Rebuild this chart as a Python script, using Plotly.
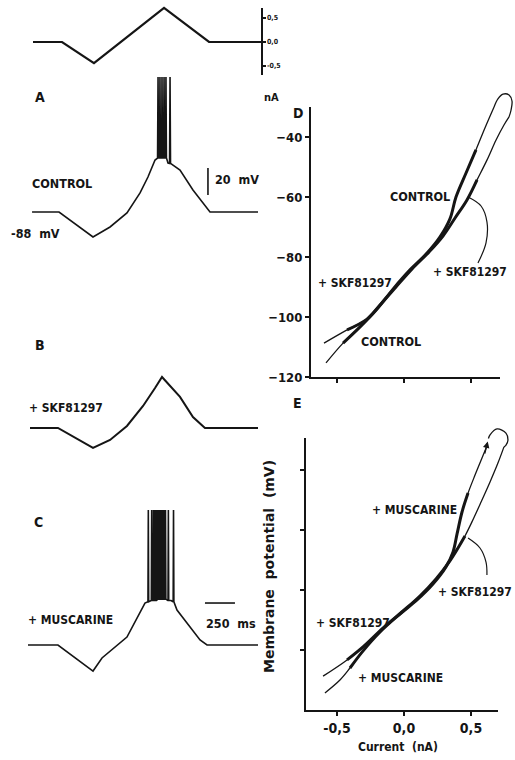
import plotly.graph_objects as go

# ---------------- data ----------------
# current stimulus (nA) vs time (ms)
STIM_T = [25, 267, 533, 1117, 1492, 1925]
STIM_I = [0, 0, -0.44, 0.71, 0, 0]

# A: control, membrane potential (mV) vs time (ms)
A_T = [17, 242, 525, 667, 808, 917, 983, 1042,
       1063, 1067, 1071, 1080, 1083, 1087, 1097, 1100, 1104,
       1113, 1117, 1121, 1130, 1133, 1137,
       1150, 1163, 1167, 1171, 1192, 1250, 1358, 1500, 1900]
A_V = [-88, -88, -106.5, -99.1, -88.7, -73.9, -62.1, -49.5,
       -48, 12, -48, -48, 12, -48, -48, 12, -48,
       -48, 12, -48, -48, 12, -48,
       -51.7, -52, 12, -52, -53.2, -56.9, -71.7, -88, -88]

# B: + SKF81297
B_T = [0, 233, 525, 667, 808, 942, 1042, 1100, 1250, 1358, 1458, 1900]
B_V = [-88, -88, -102.8, -96.9, -86.5, -71.7, -58.4, -50.2, -65.0, -79.9, -88, -88]

# C: + MUSCARINE
C_T = [-17, 233, 525, 600, 808, 958,
       983, 986, 989, 1011, 1014, 1017, 1026, 1029, 1032, 1039, 1042, 1045,
       1051, 1054, 1057, 1064, 1067, 1070, 1076, 1079, 1082, 1089, 1092, 1095,
       1101, 1104, 1107, 1114, 1117, 1120, 1126, 1129, 1132, 1150, 1153, 1156,
       1175, 1193, 1196, 1199,
       1225, 1308, 1417, 1475, 1900]
C_V = [-88, -88, -107.3, -97.6, -82.1, -56.9,
       -56, 12, -56, -55, 12, -55, -55, 12, -55, -55, 12, -55,
       -55, 12, -55, -54, 12, -54, -54, 12, -54, -54, 12, -54,
       -54, 12, -54, -54, 12, -54, -54, 12, -54, -55, 12, -55,
       -55, -56, 12, -56,
       -62.1, -71.7, -84.3, -88, -88]

# scale bars
BAR_MV_T = [1483, 1483]
BAR_MV_V = [-75.4, -55.4]
BAR_MS_T = [1458, 1708]
BAR_MS_V = [-56.9, -56.9]

# D: I-V, control vs SKF81297 (current nA, potential mV)
D_CON_X = [-0.582, -0.455, -0.328, -0.201, -0.082, 0.045, 0.172, 0.269, 0.343, 0.388, 0.463, 0.537, 0.604, 0.672]
D_CON_Y = [-115.3, -108.7, -103.3, -97.3, -90.7, -84.3, -78.7, -73.3, -67.3, -60.0, -52.0, -44.3, -37.0, -30.0]
D_SKF_X = [-0.597, -0.425, -0.276, -0.179, -0.060, 0.060, 0.187, 0.291, 0.381, 0.470, 0.545, 0.619, 0.687, 0.746, 0.784]
D_SKF_Y = [-108.7, -104.3, -100.7, -96.0, -90.0, -84.0, -78.3, -73.0, -67.0, -61.0, -54.3, -47.7, -41.0, -36.0, -33.3]
D_LOOP_X = [0.672, 0.701, 0.739, 0.784, 0.806, 0.799, 0.784]
D_LOOP_Y = [-30.0, -27.3, -25.7, -26.0, -28.0, -31.0, -33.3]
D_ARR_X = [0.478, 0.575, 0.619, 0.612, 0.552]
D_ARR_Y = [-60.0, -63.0, -68.3, -75.3, -82.0]

# E: I-V, muscarine vs SKF81297
E_MUS_X = [-0.590, -0.478, -0.403, -0.313, -0.179, -0.030, 0.097, 0.216, 0.313, 0.366, 0.396, 0.433, 0.478, 0.530, 0.582, 0.619]
E_MUS_Y = [-114.3, -110.0, -106.0, -100.7, -94.0, -88.0, -83.3, -78.0, -72.3, -67.3, -61.3, -54.0, -47.7, -41.7, -36.0, -32.0]
E_SKF_X = [-0.604, -0.425, -0.299, -0.157, -0.007, 0.119, 0.239, 0.336, 0.403, 0.455, 0.507, 0.575, 0.642, 0.701, 0.746]
E_SKF_Y = [-108.7, -103.3, -98.7, -92.7, -87.0, -82.0, -76.3, -70.7, -66.0, -62.0, -57.3, -50.7, -44.0, -37.7, -32.3]
E_LOOP_X = [0.630, 0.642, 0.694, 0.761, 0.776, 0.760, 0.746]
E_LOOP_Y = [-29.5, -28.3, -26.3, -27.7, -30.0, -31.8, -32.3]
E_ARR_X = [0.478, 0.567, 0.612, 0.619]
E_ARR_Y = [-62.7, -66.0, -70.7, -75.0]

IV_XTICKS = [-0.5, 0.0, 0.5]
IV_XTICKTEXT = ["-0,5", "0,0", "0,5"]
D_YTICKS = [-120, -100, -80, -60, -40]
E_YTICKS = [-100, -80, -60, -40]
STIM_TICKS = [-0.5, 0.0, 0.5]
STIM_TICKTEXT = ["-0,5", "0,0", "0,5"]

# ---------------- layout helpers ----------------
W, H = 515, 760
def px(p):
    return p / W
def py(p):
    return 1 - p / H

FONT = "Liberation Sans Narrow, DejaVu Sans Condensed, Liberation Sans, Arial, sans-serif"
INK = "#151515"
FS = 12

T0, TS = 30, 0.12          # time axis: pixel = T0 + TS * t
MVS = 1.35                 # pixels per mV in the traces
IX0, IXS = 404, 134        # I-V: pixel = IX0 + IXS * nA
IVS = 3                    # I-V: pixels per mV

fig = go.Figure()

def line(x, y, xa, ya, w=2.0, shape="linear"):
    fig.add_trace(go.Scatter(x=x, y=y, xaxis=xa, yaxis=ya, mode="lines",
                             line=dict(color=INK, width=w, shape=shape),
                             hoverinfo="skip", showlegend=False))

def ghost(xa, ya, x0, y0):
    fig.add_trace(go.Scatter(x=[x0], y=[y0], xaxis=xa, yaxis=ya, mode="markers",
                             marker=dict(opacity=0), hoverinfo="skip", showlegend=False))

# left traces
line(STIM_T, STIM_I, "x", "y", 2.2)
ghost("x", "y7", 0, 0)
line(A_T, A_V, "x", "y2", 1.6)
line(BAR_MV_T, BAR_MV_V, "x", "y2", 1.6)
line(B_T, B_V, "x", "y3", 2.0)
line(C_T, C_V, "x", "y4", 1.6)
line(BAR_MS_T, BAR_MS_V, "x", "y4", 1.6)

# D
def band(xs, ys, lo, hi):
    idx = [i for i, v in enumerate(xs) if lo <= v <= hi]
    return [xs[i] for i in idx], [ys[i] for i in idx]

ghost("x2", "y5", 0, -100)
for xs, ys in ((D_CON_X, D_CON_Y), (D_SKF_X, D_SKF_Y)):
    line(xs, ys, "x4", "y8", 1.3, "spline")
    bx, by = band(xs, ys, -0.46, 0.56)
    line(bx, by, "x4", "y8", 3.0, "spline")
line(D_LOOP_X, D_LOOP_Y, "x4", "y8", 1.3, "spline")
line(D_ARR_X, D_ARR_Y, "x4", "y8", 1.2, "spline")

# E
ghost("x3", "y6", 0, -100)
for xs, ys in ((E_MUS_X, E_MUS_Y), (E_SKF_X, E_SKF_Y)):
    line(xs, ys, "x5", "y9", 1.3, "spline")
    bx, by = band(xs, ys, -0.46, 0.48)
    line(bx, by, "x5", "y9", 3.0, "spline")
line(E_LOOP_X, E_LOOP_Y, "x5", "y9", 1.3, "spline")
line(E_ARR_X, E_ARR_Y, "x5", "y9", 1.2, "spline")

hidden = dict(visible=False, showgrid=False, zeroline=False, automargin=False)
bold = dict(family=FONT, size=13, color=INK, weight="bold")

fig.update_layout(
    template="none",
    width=W, height=H, autosize=False,
    margin=dict(l=0, r=0, t=0, b=0, pad=0, autoexpand=False),
    paper_bgcolor="white", plot_bgcolor="rgba(0,0,0,0)",
    showlegend=False,
    xaxis=dict(domain=[px(20), px(262)], range=[(20 - T0) / TS, (262 - T0) / TS], anchor="y", **hidden),
    yaxis=dict(domain=[py(80), py(4)], range=[-(80 - 42) / 48, (42 - 4) / 48], anchor="x", **hidden),
    yaxis2=dict(domain=[py(250), py(60)], range=[-88 - (250 - 212) / MVS, -88 + (212 - 60) / MVS], anchor="x", **hidden),
    yaxis3=dict(domain=[py(462), py(360)], range=[-88 - (462 - 428) / MVS, -88 + (428 - 360) / MVS], anchor="x", **hidden),
    yaxis4=dict(domain=[py(690), py(495)], range=[-88 - (690 - 645) / MVS, -88 + (645 - 495) / MVS], anchor="x", **hidden),
    yaxis7=dict(domain=[py(75), py(8)], range=[-(75 - 42) / 48, (42 - 8) / 48], anchor="free",
                position=px(261), side="right", showline=True, linecolor=INK, linewidth=1.5,
                ticks="outside", ticklen=3, tickwidth=1.2, tickcolor=INK,
                tickvals=STIM_TICKS, ticktext=STIM_TICKTEXT,
                tickfont=dict(family=FONT, size=7, color=INK, weight="bold"),
                showgrid=False, zeroline=False, automargin=False),
    # D frame
    xaxis2=dict(domain=[px(311), px(500)], range=[(311 - IX0) / IXS, (500 - IX0) / IXS], anchor="y5",
                showline=True, linecolor=INK, linewidth=2, ticks="outside", ticklen=4, tickwidth=1.5,
                tickcolor=INK, tickvals=IV_XTICKS, showticklabels=False, showgrid=False, zeroline=False,
                automargin=False),
    yaxis5=dict(domain=[py(377), py(107)], range=[-120, -120 + (377 - 107) / IVS], anchor="x2",
                showline=True, linecolor=INK, linewidth=2, ticks="outside", ticklen=4, tickwidth=1.5,
                tickcolor=INK, tickvals=D_YTICKS, tickfont=bold, showgrid=False, zeroline=False,
                automargin=False),
    xaxis4=dict(domain=[px(300), px(515)], range=[(300 - IX0) / IXS, (515 - IX0) / IXS], anchor="y8", **hidden),
    yaxis8=dict(domain=[py(385), py(85)], range=[-120 - (385 - 377) / IVS, -120 + (377 - 85) / IVS], anchor="x4", **hidden),
    # E frame
    xaxis3=dict(domain=[px(306), px(498)], range=[(306 - IX0) / IXS, (498 - IX0) / IXS], anchor="y6",
                showline=True, linecolor=INK, linewidth=2, ticks="outside", ticklen=4, tickwidth=1.5,
                tickcolor=INK, tickvals=IV_XTICKS, ticktext=IV_XTICKTEXT,
                tickfont=dict(family=FONT, size=14, color=INK, weight="bold"),
                showgrid=False, zeroline=False, automargin=False),
    yaxis6=dict(domain=[py(710), py(438)], range=[-120, -120 + (710 - 438) / IVS], anchor="x3",
                showline=True, linecolor=INK, linewidth=2, ticks="outside", ticklen=4, tickwidth=1.5,
                tickcolor=INK, tickvals=E_YTICKS, showticklabels=False, showgrid=False, zeroline=False,
                automargin=False),
    xaxis5=dict(domain=[px(296), px(515)], range=[(296 - IX0) / IXS, (515 - IX0) / IXS], anchor="y9", **hidden),
    yaxis9=dict(domain=[py(718), py(415)], range=[-120 - (718 - 710) / IVS, -120 + (710 - 415) / IVS], anchor="x5", **hidden),
)

def label(text, x, y, xanchor="left", size=FS, family=FONT, angle=0):
    fig.add_annotation(text=text, x=px(x), y=py(y), xref="paper", yref="paper",
                       xanchor=xanchor, yanchor="middle", showarrow=False, textangle=angle,
                       font=dict(family=family, size=size, color=INK, weight="bold"))

label("A", 33, 97, size=14)
label("B", 33, 345, size=14)
label("C", 32, 522, size=14)
label("nA", 262, 97, size=11)
label("CONTROL", 30, 183, size=12.5)
label("-88  mV", 9, 234, size=12.5)
label("20  mV", 213, 180, size=12.5)
label("+ SKF81297", 27, 408)
label("+ MUSCARINE", 26, 620)
label("250  ms", 204, 623, size=12.5)

label("D", 291, 113, size=14)
label("E", 291, 403, size=14)
label("CONTROL", 452, 197, xanchor="right", size=12.5)
label("+ SKF81297", 431, 272)
label("+ SKF81297", 316, 283)
label("CONTROL", 359, 342, size=12.5)
label("+ MUSCARINE", 370, 510)
label("+ SKF81297", 436, 592)
label("+ SKF81297", 314, 623)
label("+ MUSCARINE", 356, 678)
label("Current  (nA)", 398, 747, xanchor="center", size=12)
label("Membrane  potential  (mV)", 269, 567, xanchor="center", size=14,
      family="DejaVu Sans, Liberation Sans, sans-serif", angle=-90)

# arrowhead at the top of the muscarine curve in E
fig.add_annotation(x=0.625, y=-30.5, ax=0.600, ay=-35.0, xref="x5", yref="y9", axref="x5", ayref="y9",
                   showarrow=True, arrowhead=2, arrowsize=1, arrowwidth=1.3, arrowcolor=INK, text="")

# the page's default 8 px body margin would shift the figure; remove it
fig.write_html("out.html", config={"displayModeBar": False, "staticPlot": True},
               post_script="document.body.style.margin='0';")
